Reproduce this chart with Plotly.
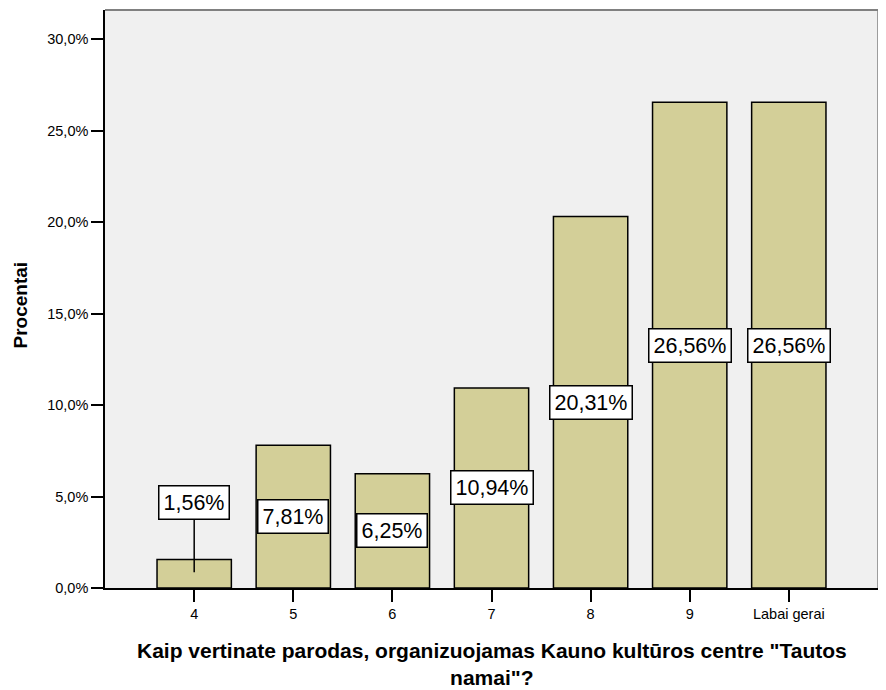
import plotly.graph_objects as go

categories = ["4", "5", "6", "7", "8", "9", "Labai gerai"]
values = [1.56, 7.81, 6.25, 10.94, 20.31, 26.56, 26.56]
labels = ["1,56%", "7,81%", "6,25%", "10,94%", "20,31%", "26,56%", "26,56%"]
y_ticks = [0, 5, 10, 15, 20, 25, 30]
y_tick_text = ["0,0%", "5,0%", "10,0%", "15,0%", "20,0%", "25,0%", "30,0%"]

x_idx = list(range(len(categories)))
FONT = "Liberation Sans, Arial"

fig = go.Figure()
fig.add_trace(go.Bar(
    x=x_idx, y=values, width=0.75,
    marker=dict(color="#d3cf98", line=dict(color="#000000", width=1.5)),
    hoverinfo="skip",
))

annotations = []
for i, (v, lab) in enumerate(zip(values, labels)):
    common = dict(
        text=lab, xref="x", yref="y",
        font=dict(family=FONT, size=21.5, color="#000"),
        bgcolor="#ffffff", bordercolor="#000000", borderwidth=1.5, borderpad=4,
    )
    if v < 3:
        annotations.append(dict(
            x=i, y=v * 0.55, ax=i, ay=v + 3.1, axref="x", ayref="y",
            showarrow=True, arrowhead=0, arrowwidth=1.5, arrowcolor="#000",
            standoff=0, **common))
    else:
        annotations.append(dict(x=i, y=v / 2, showarrow=False, **common))

annotations.append(dict(
    text="<b>Procentai</b>", xref="paper", yref="paper", x=-0.109, y=0.49,
    xanchor="center", yanchor="middle", textangle=-90, showarrow=False,
    font=dict(family=FONT, size=19, color="#000")))

annotations.append(dict(
    text="<b>Kaip vertinate parodas, organizuojamas Kauno kultūros centre \"Tautos<br>namai\"?</b>",
    xref="paper", yref="paper", x=0.5, y=-0.084, xanchor="center", yanchor="top",
    showarrow=False, align="center",
    font=dict(family=FONT, size=21, color="#000")))

fig.update_layout(
    width=886, height=690,
    margin=dict(l=97, r=16, t=2, b=110),
    paper_bgcolor="#ffffff", plot_bgcolor="#f0f0f0",
    showlegend=False, bargap=0.25,
    annotations=annotations,
    shapes=[
        dict(type="line", xref="paper", yref="paper", x0=0, x1=1, y0=1, y1=1,
             line=dict(color="#808080", width=2)),
        dict(type="line", xref="paper", yref="paper", x0=1, x1=1, y0=0, y1=1,
             line=dict(color="#808080", width=1.5)),
    ],
    xaxis=dict(
        tickmode="array", tickvals=x_idx, ticktext=categories,
        range=[-0.9, 6.9], showgrid=False, zeroline=False,
        showline=True, linecolor="#000", linewidth=1.5,
        ticks="outside", ticklen=12, tickwidth=2, tickcolor="#000",
        tickfont=dict(family=FONT, size=14.5, color="#000"),
    ),
    yaxis=dict(
        tickmode="array", tickvals=y_ticks, ticktext=y_tick_text,
        range=[0, 31.6], showgrid=False, zeroline=False,
        showline=True, linecolor="#000", linewidth=1.5,
        ticks="outside", ticklen=12, tickwidth=2, tickcolor="#000",
        tickfont=dict(family=FONT, size=14.5, color="#000"),
    ),
)

fig.write_html("out.html")
